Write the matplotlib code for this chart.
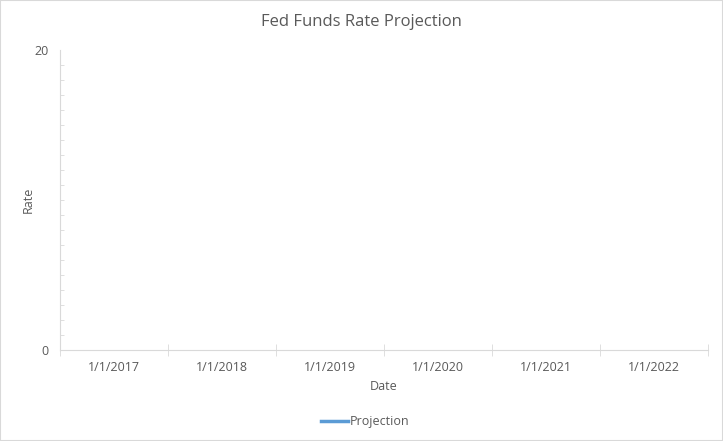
import matplotlib.pyplot as plt
import numpy as np
from matplotlib.patches import Rectangle
from matplotlib.ticker import MultipleLocator, FixedLocator

plt.rcParams['font.family'] = ['Open Sans', 'DejaVu Sans']

dates = ['1/1/2017', '1/1/2018', '1/1/2019', '1/1/2020', '1/1/2021', '1/1/2022']
projection = [np.nan, np.nan, np.nan, np.nan, np.nan, np.nan]

text_color = '#595959'
grid_color = '#d9d9d9'

fig = plt.figure(figsize=(7.23, 4.41), dpi=100)
fig.patches.append(Rectangle((0, 0), 1, 1, transform=fig.transFigure,
                             fill=False, edgecolor=grid_color, linewidth=1.5))
ax = fig.add_axes([0.083, 0.206, 0.896, 0.681])

x = np.arange(len(dates))
ax.plot(x, projection, color='#5b9bd5', linewidth=2.5, label='Projection')

ax.set_xlim(-0.5, len(dates) - 0.5)
ax.set_ylim(0, 20)
ax.set_xticks(x)
ax.set_xticklabels(dates)
ax.xaxis.set_minor_locator(FixedLocator(np.arange(-0.5, len(dates), 1.0)))
ax.tick_params(axis='x', which='major', length=0, pad=8, labelsize=9, labelcolor=text_color)
ax.tick_params(axis='x', which='minor', length=8, direction='inout', color=grid_color)

ax.set_yticks([0, 20])
ax.yaxis.set_minor_locator(MultipleLocator(1))
ax.tick_params(axis='y', which='major', length=0, pad=8, labelsize=9, labelcolor=text_color)
ax.tick_params(axis='y', which='minor', length=3, direction='in', color=grid_color)

for side in ['top', 'right']:
    ax.spines[side].set_visible(False)
for side in ['left', 'bottom']:
    ax.spines[side].set_color(grid_color)

# chart title is centred on the whole chart area, not the plot area
fig.suptitle('Fed Funds Rate Projection', x=0.5, y=0.95, va='center',
             fontsize=12, color=text_color)
ax.set_xlabel('Date', fontsize=9, color=text_color, labelpad=4)
ax.set_ylabel('Rate', fontsize=9, color=text_color, labelpad=0)

fig.legend(loc='center', bbox_to_anchor=(0.505, 0.044), frameon=False,
           fontsize=9, labelcolor=text_color, handlelength=2.2, handletextpad=0.1)

fig.savefig('out.png', dpi=100)
